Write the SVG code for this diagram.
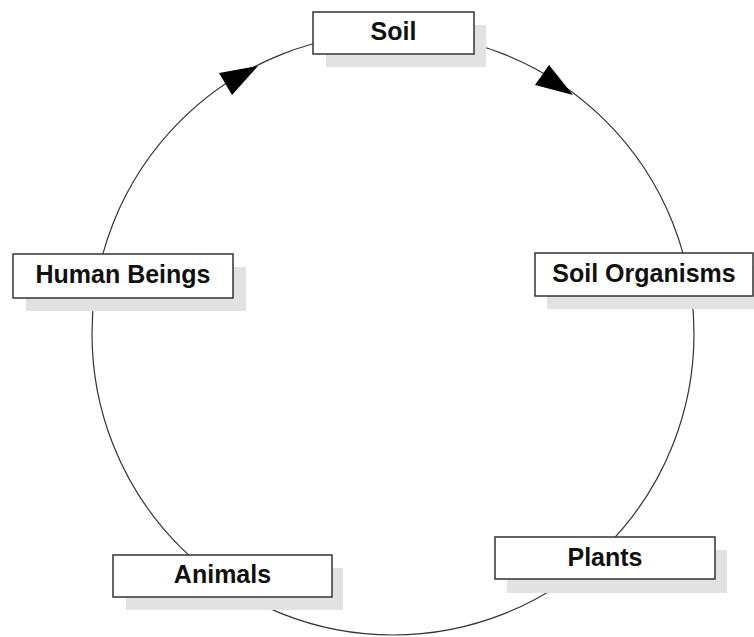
<svg xmlns="http://www.w3.org/2000/svg" width="754" height="637" viewBox="0 0 754 637">
<style>
.shadow{fill:#e2e2e2;stroke:none}
.box{fill:#ffffff;stroke:#333333;stroke-width:1.5}
.label{font-family:"Liberation Sans",Arial,sans-serif;font-weight:bold;font-size:25px;fill:#111111;text-anchor:middle}
.ring{fill:none;stroke:#333333;stroke-width:1.2}
.head{fill:#000000;stroke:none}
</style>
<rect width="754" height="637" fill="#ffffff"/>
<g id="connectors">
<ellipse class="ring" cx="393" cy="334" rx="301" ry="301"/>
<polygon class="head" points="258,66 219,73 232,95"/>
<polygon class="head" points="573,95 549,65 535,85"/>
</g>
<g id="node-soil">
<rect class="shadow" x="326" y="25" width="160" height="42"/>
<rect class="box" x="313" y="12" width="161" height="42"/>
<text class="label" x="393.5" y="40">Soil</text>
</g>
<g id="node-soil-organisms">
<rect class="shadow" x="547" y="266" width="220" height="43"/>
<rect class="box" x="535" y="253" width="218" height="43"/>
<text class="label" x="644" y="282">Soil Organisms</text>
</g>
<g id="node-plants">
<rect class="shadow" x="507" y="550" width="220" height="43"/>
<rect class="box" x="495" y="537" width="220" height="42"/>
<text class="label" x="605" y="566">Plants</text>
</g>
<g id="node-animals">
<rect class="shadow" x="126" y="568" width="217" height="42"/>
<rect class="box" x="113" y="555" width="219" height="42"/>
<text class="label" x="222.5" y="583">Animals</text>
</g>
<g id="node-human-beings">
<rect class="shadow" x="26" y="267" width="220" height="44"/>
<rect class="box" x="13" y="254" width="220" height="44"/>
<text class="label" x="123" y="283">Human Beings</text>
</g>
</svg>
